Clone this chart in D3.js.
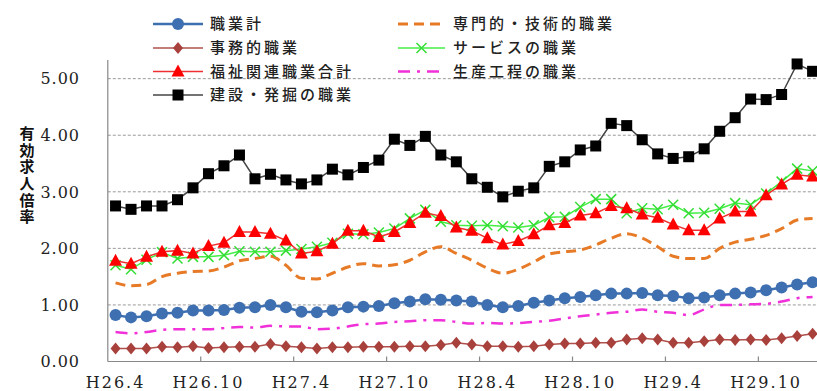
<!DOCTYPE html>
<html>
<head>
<meta charset="utf-8">
<script src="https://cdn.jsdelivr.net/npm/d3@7"></script>
<style>
  body { margin: 0; background: #fff; }
  svg { display: block; }
</style>
</head>
<body>
<svg></svg>
<script>
// months H26.4 .. H30.1
var months = [];
for (var k = 0; k < 46; k++) {
  var m = 4 + k, yr = 26 + Math.floor((m - 1) / 12);
  months.push('H' + yr + '.' + (((m - 1) % 12) + 1));
}
var tickLabels = ['H26.4', 'H26.10', 'H27.4', 'H27.10', 'H28.4', 'H28.10', 'H29.4', 'H29.10'];
var yTicks = [0, 1, 2, 3, 4, 5];

var total = [0.82,0.78,0.80,0.85,0.86,0.90,0.90,0.91,0.95,0.96,1.00,0.96,0.88,0.87,0.90,0.96,0.97,0.98,1.03,1.06,1.10,1.09,1.08,1.06,1.00,0.96,0.98,1.04,1.08,1.12,1.14,1.17,1.20,1.20,1.21,1.17,1.16,1.12,1.13,1.17,1.20,1.22,1.26,1.31,1.36,1.40];
var professional = [1.39,1.34,1.36,1.50,1.56,1.59,1.60,1.67,1.78,1.82,1.86,1.70,1.47,1.46,1.56,1.67,1.73,1.69,1.71,1.79,1.94,2.03,1.91,1.79,1.65,1.56,1.63,1.76,1.90,1.94,1.97,2.06,2.18,2.26,2.18,2.03,1.86,1.82,1.82,2.00,2.11,2.16,2.23,2.35,2.50,2.53];
var clerical = [0.23,0.23,0.23,0.26,0.25,0.27,0.24,0.25,0.26,0.26,0.31,0.27,0.25,0.23,0.25,0.25,0.26,0.26,0.26,0.27,0.27,0.29,0.33,0.30,0.27,0.27,0.26,0.27,0.30,0.32,0.32,0.33,0.33,0.39,0.41,0.39,0.33,0.33,0.36,0.39,0.38,0.39,0.38,0.41,0.45,0.49];
var service = [1.70,1.63,1.80,1.93,1.82,1.85,1.85,1.88,1.95,1.94,1.94,1.96,1.99,2.03,2.10,2.26,2.25,2.28,2.35,2.53,2.68,2.47,2.41,2.40,2.41,2.39,2.37,2.41,2.55,2.56,2.73,2.87,2.87,2.62,2.71,2.69,2.77,2.62,2.63,2.70,2.80,2.77,2.97,3.18,3.41,3.37];
var welfare = [1.78,1.73,1.85,1.94,1.96,1.91,2.04,2.10,2.29,2.29,2.26,2.14,1.91,1.95,2.08,2.31,2.31,2.20,2.29,2.45,2.63,2.57,2.37,2.31,2.18,2.07,2.13,2.25,2.41,2.45,2.58,2.62,2.75,2.71,2.60,2.54,2.42,2.32,2.32,2.53,2.65,2.65,2.94,3.13,3.30,3.27];
var production = [0.52,0.50,0.52,0.56,0.57,0.57,0.57,0.59,0.61,0.60,0.63,0.62,0.62,0.57,0.58,0.62,0.66,0.67,0.70,0.71,0.73,0.73,0.70,0.67,0.68,0.67,0.68,0.70,0.72,0.76,0.80,0.83,0.86,0.88,0.92,0.88,0.86,0.82,0.92,1.00,1.00,1.01,1.02,1.06,1.12,1.14];
var construction = [2.75,2.69,2.75,2.75,2.86,3.07,3.32,3.46,3.65,3.23,3.31,3.21,3.14,3.21,3.40,3.30,3.43,3.56,3.93,3.82,3.98,3.65,3.53,3.23,3.08,2.91,3.01,3.07,3.45,3.53,3.74,3.81,4.21,4.17,3.92,3.67,3.59,3.62,3.76,4.07,4.31,4.64,4.63,4.72,5.26,5.13];

var series = [
  {name: '職業計', values: total, color: '#3e6fb0', width: 2.5, marker: 'circle', mcolor: '#3e6fb0', col: 0, row: 0},
  {name: '専門的・技術的職業', values: professional, color: '#e77a26', width: 3, dash: '10,6', smooth: true, col: 1, row: 0},
  {name: '事務的職業', values: clerical, color: '#b0504c', width: 1.5, marker: 'diamond', mcolor: '#a8403c', col: 0, row: 1},
  {name: 'サービスの職業', values: service, color: '#44ee44', width: 1.5, marker: 'cross', mcolor: '#33dd33', col: 1, row: 1},
  {name: '福祉関連職業合計', values: welfare, color: '#f03030', width: 1.5, marker: 'triangle', mcolor: '#ff0000', col: 0, row: 2},
  {name: '生産工程の職業', values: production, color: '#f030d8', width: 2.5, dash: '12,7,3,7', smooth: true, col: 1, row: 2},
  {name: '建設・発掘の職業', values: construction, color: '#444', width: 1.5, marker: 'square', mcolor: '#000', col: 0, row: 3}
];

var width = 817, height = 391,
  left = 107.8, band = 15.49;

var svg = d3.select('svg').attr('width', width).attr('height', height);

var x = d3.scaleBand().domain(months).range([left, left + months.length * band]).padding(0);
var y = d3.scaleLinear().domain([0, 5.33]).range([361.5, 60]);
var cx = d => x(d) + x.bandwidth() / 2;

// gridlines
svg.append('g').selectAll('line').data(yTicks.filter(d => d > 0)).join('line')
  .attr('x1', left).attr('x2', width)
  .attr('y1', d => y(d)).attr('y2', d => y(d))
  .attr('stroke', '#999').attr('stroke-width', 1).attr('stroke-dasharray', '3,2');

// axes
svg.append('line').attr('x1', left).attr('x2', left).attr('y1', y(5.33)).attr('y2', y(0))
  .attr('stroke', '#888').attr('stroke-width', 1.2);
svg.append('line').attr('x1', left).attr('x2', width).attr('y1', y(0)).attr('y2', y(0))
  .attr('stroke', '#888').attr('stroke-width', 1.2);

svg.append('g').selectAll('line').data(months.filter((d, i) => i > 0 && i % 6 == 0)).join('line')
  .attr('x1', d => x(d)).attr('x2', d => x(d))
  .attr('y1', y(0)).attr('y2', y(0) - 5)
  .attr('stroke', '#888').attr('stroke-width', 1.2);

svg.append('g').selectAll('text').data(yTicks).join('text')
  .attr('x', 80).attr('y', d => y(d)).attr('dy', '0.36em')
  .attr('text-anchor', 'end')
  .style('font-family', 'DejaVu Serif').style('font-size', '16px').style('letter-spacing', '1px')
  .attr('fill', '#222')
  .text(d => d.toFixed(2));

svg.append('g').selectAll('text').data(tickLabels).join('text')
  .attr('x', d => cx(d)).attr('y', 388)
  .attr('text-anchor', 'middle')
  .style('font-family', 'DejaVu Serif').style('font-size', '16px').style('letter-spacing', '2px')
  .attr('fill', '#222')
  .text(d => d);

// y title, vertical
svg.append('text')
  .attr('x', 27).attr('y', 126)
  .style('writing-mode', 'vertical-rl')
  .style('font-family', 'Noto Sans CJK JP').style('font-size', '15px').style('font-weight', 'bold')
  .style('letter-spacing', '1.6px')
  .attr('fill', '#111')
  .text('有効求人倍率');

function drawMarker(g, type, color) {
  if (type == 'circle') {
    g.append('circle').attr('r', 6).attr('fill', color);
  } else if (type == 'square') {
    g.append('rect').attr('x', -5.5).attr('y', -5.5).attr('width', 11).attr('height', 11).attr('fill', color);
  } else if (type == 'diamond') {
    g.append('path').attr('d', 'M0,-6L5,0L0,6L-5,0Z').attr('fill', color);
  } else if (type == 'triangle') {
    g.append('path').attr('d', 'M0,-7L6.5,5L-6.5,5Z').attr('fill', color);
  } else if (type == 'cross') {
    g.append('path').attr('d', 'M-5,-5L5,5M-5,5L5,-5').attr('stroke', color).attr('stroke-width', 1.5);
  }
}

series.forEach(function(s) {
  var line = d3.line()
    .x((d, i) => cx(months[i]))
    .y(d => y(d))
    .curve(s.smooth ? d3.curveMonotoneX : d3.curveLinear);
  svg.append('path').datum(s.values)
    .attr('d', line)
    .attr('fill', 'none')
    .attr('stroke', s.color)
    .attr('stroke-width', s.width)
    .attr('stroke-dasharray', s.dash || null);
  if (s.marker) {
    svg.append('g').selectAll('g').data(s.values).join('g')
      .attr('transform', (d, i) => 'translate(' + [cx(months[i]), y(d)] + ')')
      .each(function() { drawMarker(d3.select(this), s.marker, s.mcolor); });
  }
});

// legend
var legCols = [{x1: 153, x2: 203, tx: 210}, {x1: 398, x2: 445, tx: 453}];
var legRows = [24, 48, 71.5, 95];
var leg = svg.append('g').selectAll('g').data(series).join('g')
  .attr('transform', d => 'translate(0,' + legRows[d.row] + ')');
leg.append('line')
  .attr('x1', d => legCols[d.col].x1).attr('x2', d => legCols[d.col].x2)
  .attr('stroke', d => d.color).attr('stroke-width', d => d.width)
  .attr('stroke-dasharray', d => d.dash || null);
leg.each(function(d) {
  if (d.marker) {
    var g = d3.select(this).append('g')
      .attr('transform', 'translate(' + (legCols[d.col].x1 + legCols[d.col].x2) / 2 + ',0)');
    drawMarker(g, d.marker, d.mcolor);
  }
});
leg.append('text')
  .attr('x', d => legCols[d.col].tx).attr('dy', '0.36em')
  .style('font-family', 'Noto Sans CJK JP').style('font-size', '15px').style('letter-spacing', '3px')
  .style('font-weight', '500')
  .attr('fill', '#222')
  .text(d => d.name);
</script>
</body>
</html>
